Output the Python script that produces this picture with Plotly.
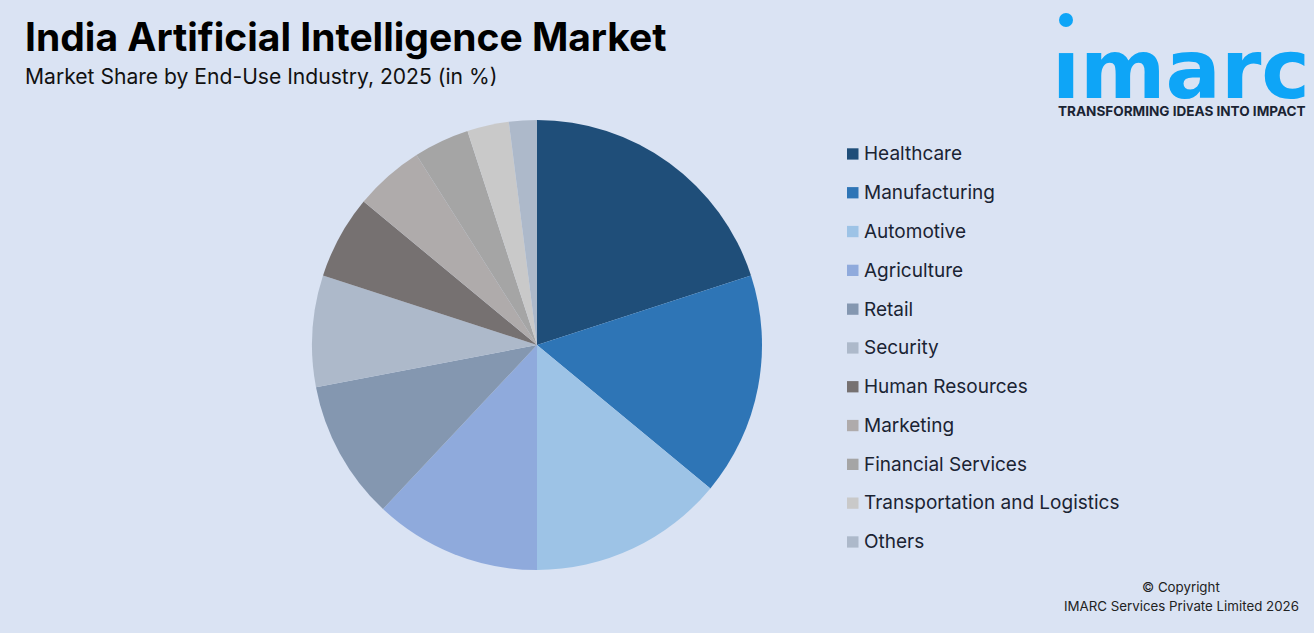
import plotly.graph_objects as go

# values
industries = ["Healthcare", "Manufacturing", "Automotive", "Agriculture", "Retail", "Security",
              "Human Resources", "Marketing", "Financial Services",
              "Transportation and Logistics", "Others"]
shares = [20, 16, 14, 12, 10, 8, 6, 5, 4, 3, 2]
colors = ["#1f4e79", "#2e75b6", "#9dc3e6", "#8faadc", "#8497b0", "#adb9ca",
          "#767171", "#afabab", "#a5a5a5", "#c9c9c9", "#adb9ca"]

W, H = 1314, 633
BG = "#dae3f3"
FONT = "Inter"
LOGO = "#0ea5f7"


def px_x(v):
    return v / W


def px_y(v):
    return 1 - v / H


fig = go.Figure()
fig.add_trace(go.Pie(labels=industries, values=shares, sort=False, direction="clockwise",
                     rotation=0, textinfo="none", showlegend=False,
                     marker=dict(colors=colors, line_width=0),
                     domain=dict(x=[px_x(312), px_x(762)], y=[px_y(570), px_y(120)])))

annotations = []
shapes = []


def add_text(x, y, text, size, color="#000000", family=FONT, anchor="left"):
    annotations.append(dict(x=px_x(x), y=px_y(y), xref="paper", yref="paper", text=text,
                            showarrow=False, xanchor=anchor, yanchor="middle",
                            font=dict(size=size, color=color, family=family)))


add_text(23, 36, "<b>India Artificial Intelligence Market</b>", 39)
add_text(23, 76, "Market Share by End-Use Industry, 2025 (in %)", 21.1, "#111111")

# legend drawn by hand, the spacing is wider than plotly's own legend allows
for i, (name, col) in enumerate(zip(industries, colors)):
    yc = 153.8 + i * 38.8
    shapes.append(dict(type="rect", xref="paper", yref="paper", line_width=0, fillcolor=col,
                       x0=px_x(847), x1=px_x(858.5), y0=px_y(yc - 5.5), y1=px_y(yc + 5.8)))
    add_text(862, yc, name, 19, "#1a2433")

add_text(1181, 587, "© Copyright", 13.3, "#222222", anchor="center")
add_text(1301, 606, "IMARC Services Private Limited 2026", 13.3, "#222222", anchor="right")

# logo
shapes.append(dict(type="circle", xref="paper", yref="paper", line_width=0, fillcolor=LOGO,
                   x0=px_x(1059), x1=px_x(1073), y0=px_y(27), y1=px_y(13)))
add_text(1050, 70, "<b>ımarc</b>", 82, LOGO, "DejaVu Sans")
add_text(1056, 110.5, "<b>TRANSFORMING IDEAS INTO IMPACT</b>", 13.55, "#1a2433")

fig.update_layout(width=W, height=H, margin=dict(l=0, r=0, t=0, b=0),
                  paper_bgcolor=BG, plot_bgcolor=BG,
                  annotations=annotations, shapes=shapes)
fig.write_html("out.html", config=dict(displayModeBar=False),
               post_script="document.body.style.margin='0';document.body.style.background='%s';" % BG)
